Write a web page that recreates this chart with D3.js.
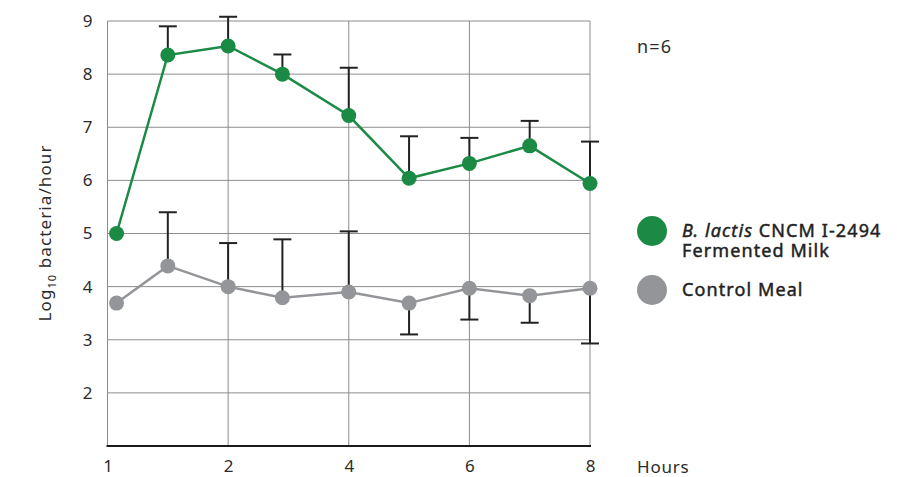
<!DOCTYPE html>
<html>
<head>
<meta charset="utf-8">
<script src="https://cdn.jsdelivr.net/npm/d3@7"></script>
<style>
  html, body { margin: 0; padding: 0; background: #fff; }
  svg { display: block; font-family: "Noto Sans", "DejaVu Sans", sans-serif; }
</style>
</head>
<body>
<svg id="chart" width="910" height="477"></svg>
<script>
// Sampling times (hours) and measured values
const hours = [0.15, 1, 2, 2.9, 4, 5, 6, 7, 8];
const fermentedMilk = [5.0, 8.36, 8.53, 8.0, 7.22, 6.04, 6.32, 6.65, 5.94];
const fermentedMilkUpper = [null, 8.9, 9.08, 8.37, 8.12, 6.83, 6.8, 7.12, 6.73];
const controlMeal = [3.69, 4.39, 4.0, 3.79, 3.9, 3.69, 3.97, 3.83, 3.97];
const controlMealUpper = [null, 5.4, 4.82, 4.89, 5.04, null, null, null, null];
const controlMealLower = [null, null, null, null, null, 3.1, 3.38, 3.32, 2.93];

const xTickValues = [0, 2, 4, 6, 8];
const xTickLabels = ["1", "2", "4", "6", "8"];
const yTickValues = [2, 3, 4, 5, 6, 7, 8, 9];

const green = "#1b8a45";
const grey = "#939598";
const ink = "#2b2b2b";

const svg = d3.select("#chart");
const x = d3.scaleLinear().domain([0, 8]).range([107.5, 590]);
const y = d3.scaleLinear().domain([1, 9]).range([446, 21]);

// Grid
const grid = svg.append("g");
grid.selectAll("line.h").data(yTickValues).join("line")
  .attr("x1", x(0)).attr("x2", x(8))
  .attr("y1", d => y(d)).attr("y2", d => y(d))
  .attr("stroke", "#8c8c8c").attr("stroke-width", 1);
grid.selectAll("line.v").data(xTickValues).join("line")
  .attr("x1", d => x(d)).attr("x2", d => x(d))
  .attr("y1", y(9)).attr("y2", y(1))
  .attr("stroke", "#8c8c8c").attr("stroke-width", 1);

// Baseline
svg.append("line")
  .attr("x1", x(0) - 1).attr("x2", x(8) + 1)
  .attr("y1", y(1)).attr("y2", y(1))
  .attr("stroke", "#1a1a1a").attr("stroke-width", 2.2);

// Axes (labels only)
const yAxis = svg.append("g")
  .attr("transform", `translate(${x(0) - 20},0)`)
  .call(d3.axisLeft(y).tickValues(yTickValues).tickSize(0).tickPadding(0));
yAxis.select(".domain").remove();
yAxis.selectAll("text")
  .attr("text-anchor", "middle").attr("dx", 0)
  .attr("font-size", 17).attr("fill", ink)
  .style("font-family", "'Noto Sans', sans-serif");

const xAxis = svg.append("g")
  .attr("transform", `translate(0,${y(1) + 14})`)
  .call(d3.axisBottom(x).tickValues(xTickValues)
    .tickFormat((d, i) => xTickLabels[i]).tickSize(0).tickPadding(0));
xAxis.select(".domain").remove();
xAxis.selectAll("text")
  .attr("font-size", 17).attr("fill", ink)
  .style("font-family", "'Noto Sans', sans-serif");

svg.append("text")
  .attr("x", 637).attr("y", 473)
  .attr("font-size", 17).attr("letter-spacing", 0.8).attr("fill", ink)
  .text("Hours");

// Y axis title
const yTitle = svg.append("text")
  .attr("transform", `translate(51,233) rotate(-90)`)
  .attr("text-anchor", "middle")
  .attr("font-size", 17).attr("letter-spacing", 1.1).attr("fill", ink);
yTitle.append("tspan").text("Log");
yTitle.append("tspan").attr("font-size", 11).attr("dy", 5).text("10");
yTitle.append("tspan").attr("dy", -5).text(" bacteria/hour");

// Error bars
function errorBars(lo, hi) {
  const g = svg.append("g").attr("stroke", "#222").attr("stroke-width", 2);
  hours.forEach((h, i) => {
    const a = lo[i], b = hi[i];
    if (a == null || b == null) return;
    g.append("line").attr("x1", x(h)).attr("x2", x(h)).attr("y1", y(a)).attr("y2", y(b));
  });
}
function caps(vals) {
  const g = svg.append("g").attr("stroke", "#222").attr("stroke-width", 2);
  hours.forEach((h, i) => {
    if (vals[i] == null) return;
    g.append("line").attr("x1", x(h) - 9).attr("x2", x(h) + 9)
      .attr("y1", y(vals[i])).attr("y2", y(vals[i]));
  });
}
errorBars(fermentedMilk, fermentedMilkUpper);
caps(fermentedMilkUpper);
errorBars(controlMeal, controlMealUpper);
caps(controlMealUpper);
errorBars(controlMealLower, controlMeal);
caps(controlMealLower);

// Series
const line = d3.line().x((d, i) => x(hours[i])).y(d => y(d));
function series(vals, color) {
  svg.append("path").datum(vals)
    .attr("d", line).attr("fill", "none")
    .attr("stroke", color).attr("stroke-width", 2.5);
  svg.append("g").selectAll("circle").data(vals).join("circle")
    .attr("cx", (d, i) => x(hours[i])).attr("cy", d => y(d))
    .attr("r", 7.5).attr("fill", color);
}
series(controlMeal, grey);
series(fermentedMilk, green);

// Annotation
svg.append("text").attr("x", 637).attr("y", 53)
  .attr("font-size", 18).attr("letter-spacing", 1.2).attr("fill", ink).text("n=6");

// Legend (medium weight: regular face with a thin matching outline)
const legend = svg.append("g");
const legendText = (sel) => sel.attr("font-size", 18)
  .attr("letter-spacing", 1.1).attr("fill", "#222")
  .attr("stroke", "#222").attr("stroke-width", 0.45);
legend.append("circle").attr("cx", 652).attr("cy", 231).attr("r", 15).attr("fill", green);
const l1 = legend.append("text").attr("x", 682).attr("y", 237).call(legendText);
l1.append("tspan").attr("font-style", "italic").text("B. lactis");
l1.append("tspan").text(" CNCM I-2494");
l1.append("tspan").attr("x", 682).attr("dy", 20).text("Fermented Milk");
legend.append("circle").attr("cx", 652).attr("cy", 290).attr("r", 15).attr("fill", grey);
legend.append("text").attr("x", 682).attr("y", 296).call(legendText).text("Control Meal");
</script>
</body>
</html>
